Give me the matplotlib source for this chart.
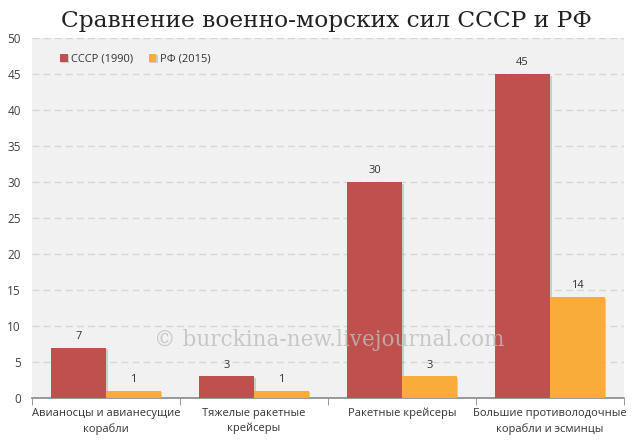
import numpy as np
import matplotlib
matplotlib.use("Agg")
import matplotlib.pyplot as plt
import matplotlib.patheffects as pe

# data
categories = ["Авианосцы и авианесущие\nкорабли", "Тяжелые ракетные\nкрейсеры",
			  "Ракетные крейсеры", "Большие противолодочные\nкорабли и эсминцы"]
ussr = [7, 3, 30, 45]
rf = [1, 1, 3, 14]
series_names = ["СССР (1990)", "РФ (2015)"]

RED = "#c0504d"
ORANGE = "#f9ac3a"

plt.rcParams['font.family'] = ['Open Sans', 'DejaVu Sans']

fig = plt.figure(figsize=(6.4, 4.44), dpi=100)
ax = fig.add_axes([0.05, 0.1036, 0.925, 0.8104])
ax.set_facecolor("#f1f1f1")

x = np.arange(len(categories))
w = 0.37
shadow = [pe.SimplePatchShadow(offset=(1.2, -1.2), shadow_rgbFace="#999999", alpha=0.4), pe.Normal()]
b1 = ax.bar(x - w/2, ussr, w, color=RED, label=series_names[0], zorder=3)
b2 = ax.bar(x + w/2, rf, w, color=ORANGE, label=series_names[1], zorder=3)
for b in list(b1) + list(b2):
	b.set_path_effects(shadow)

for bars, vals in ((b1, ussr), (b2, rf)):
	for b, v in zip(bars, vals):
		ax.text(b.get_x() + b.get_width()/2, v + 0.8, str(v), ha="center", va="bottom",
				fontsize=8, color="#333333", zorder=4)

ax.set_xlim(-0.5, len(categories) - 0.5)
ax.set_ylim(0, 50)
ax.set_yticks(np.arange(0, 51, 5))
ax.yaxis.grid(True, linestyle=(0, (5, 3)), color="#d6d6d6", linewidth=1, zorder=0)
ax.set_axisbelow(True)

ax.set_xticks(x)
ax.set_xticklabels(categories, fontsize=8, color="#333333", linespacing=1.5)
ax.set_xticks(np.arange(-0.5, len(categories), 1), minor=True)
ax.tick_params(axis="x", which="major", length=0, pad=7)
ax.tick_params(axis="x", which="minor", length=5, color="#888888", direction="out")
ax.tick_params(axis="y", length=0, labelsize=8.5, labelcolor="#404040", pad=8)

for s in ("top", "right", "left"):
	ax.spines[s].set_visible(False)
ax.spines["bottom"].set_color("#888888")
ax.spines["bottom"].set_linewidth(1.2)

leg = ax.legend(loc="upper left", bbox_to_anchor=(0.03, 0.985), ncol=2, frameon=False,
				fontsize=8, handlelength=0.7, handleheight=0.7, handletextpad=0.3,
				columnspacing=1.4, labelcolor="#333333")

fig.text(0.51, 0.952, "Сравнение военно-морских сил СССР и РФ", ha="center", va="center",
		 fontsize=16.8, family=["DejaVu Serif"], color="#222222")
fig.text(0.515, 0.235, "© burckina-new.livejournal.com", ha="center", va="center",
		 fontsize=15.5, family=["DejaVu Serif"], color="#bdbdbd", alpha=0.8, zorder=10)

fig.savefig("out.png", dpi=100)
